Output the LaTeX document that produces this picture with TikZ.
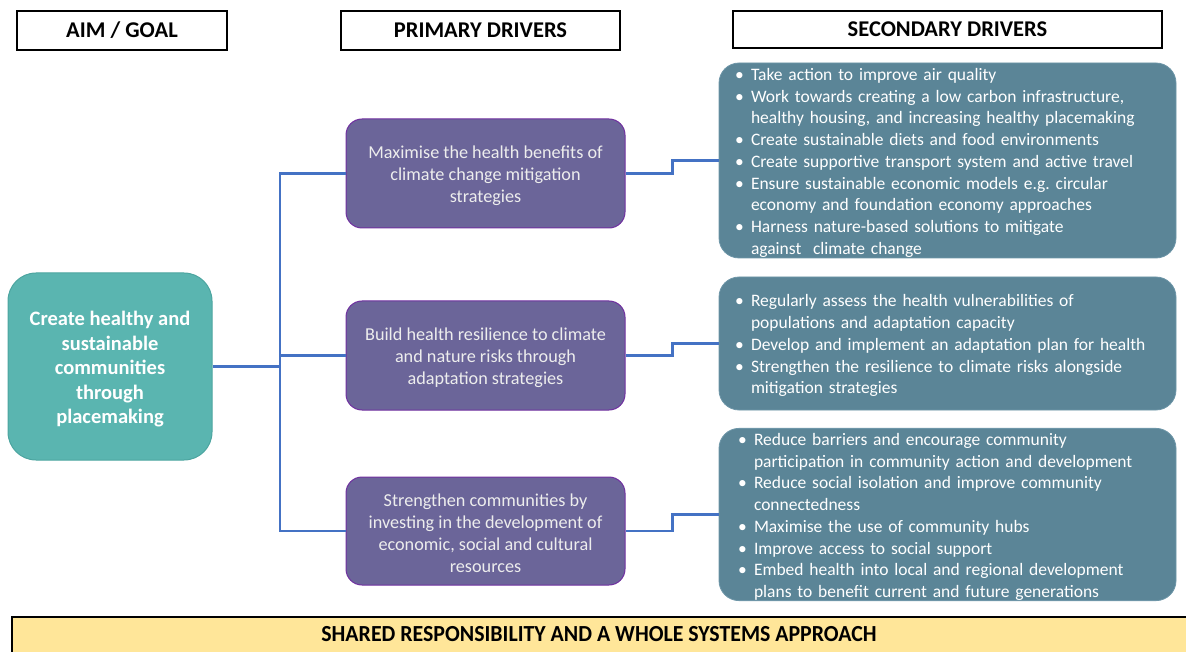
\documentclass[tikz,border=0pt]{standalone}
\usepackage{fontspec}
\setmainfont{Carlito}
\usepackage{graphicx}
\definecolor{aimfill}{RGB}{90,181,176}
\definecolor{aimdraw}{RGB}{76,165,160}
\definecolor{primfill}{RGB}{107,101,153}
\definecolor{primdraw}{RGB}{112,48,160}
\definecolor{secfill}{RGB}{91,133,151}
\definecolor{secdraw}{RGB}{110,150,168}
\definecolor{linkblue}{RGB}{68,114,196}
\definecolor{barfill}{RGB}{255,230,153}
\tikzset{
  header/.style={draw=black, line width=2pt, fill=white, font=\fontsize{22.5}{26}\selectfont\bfseries, inner sep=0pt},
  aimbox/.style={draw=aimdraw, line width=1pt, fill=aimfill, rounded corners=28pt, text=white, align=center,
    font=\fontsize{20.5}{24.5}\selectfont\bfseries, minimum width=204pt, minimum height=187pt, inner sep=0pt},
  primbox/.style={draw=primdraw, line width=1pt, fill=primfill, rounded corners=16pt, text=white!93!black, align=center,
    font=\fontsize{18.2}{22}\selectfont, minimum width=279pt, minimum height=109pt, inner sep=0pt},
  secbox/.style={draw=secdraw, line width=0.8pt, fill=secfill, rounded corners=20pt, text=white, align=left,
    font=\fontsize{17.5}{21.75}\selectfont, minimum width=457pt, text width=425pt, inner xsep=16pt, inner ysep=0pt},
  link/.style={draw=linkblue, line width=2.6pt},
  bar/.style={fill=barfill, minimum width=1174pt, minimum height=35pt, inner sep=0pt,
    font=\fontsize{23}{26}\selectfont\bfseries}
}
\newcommand{\bl}{\makebox[16pt][l]{\textbullet}}
\newcommand{\cl}{\hspace*{16pt}}
\begin{document}
\begin{tikzpicture}[x=1pt,y=-1pt]
\useasboundingbox (0,0) rectangle (1186,652);
% headers
\node[header, minimum width=210pt, minimum height=39pt] (hAim) at (122,30.5) {AIM / GOAL};
\node[header, minimum width=279pt, minimum height=39pt] (hPrim) at (480.5,30.5) {PRIMARY DRIVERS};
\node[header, minimum width=429pt, minimum height=37pt] (hSec) at (947.5,29.5) {SECONDARY DRIVERS};
% aim
\node[aimbox] (aim) at (110,366.5) {\rule{0pt}{20pt}Create healthy and\\sustainable\\communities\\through\\placemaking};
% primary drivers
\node[primbox] (p1) at (485.5,173.5) {\rule{0pt}{18pt}Maximise the health benefits of\\climate change mitigation\\strategies};
\node[primbox] (p2) at (485.5,355.5) {\rule{0pt}{18pt}Build health resilience to climate\\and nature risks through\\adaptation strategies};
\node[primbox, minimum height=108pt] (p3) at (485.5,531) {\rule{0pt}{18pt}Strengthen communities by\\investing in the development of\\economic, social and cultural\\resources};
% secondary drivers
\node[secbox, minimum height=195pt] (s1) at (947.5,160.5) {%
\rule{0pt}{17pt}\bl Take action to improve air quality\\
\bl Work towards creating a low carbon infrastructure,\\
\cl healthy housing, and increasing healthy placemaking\\
\bl Create sustainable diets and food environments\\
\bl Create supportive transport system and active travel\\
\bl Ensure sustainable economic models e.g.\ circular\\
\cl economy and foundation economy approaches\\
\bl Harness nature-based solutions to mitigate\\
\cl against\ \ climate change};
\node[secbox, minimum height=133pt] (s2) at (947.5,343.5) {%
\rule{0pt}{17pt}\bl Regularly assess the health vulnerabilities of\\
\cl populations and adaptation capacity\\
\bl Develop and implement an adaptation plan for health\\
\bl Strengthen the resilience to climate risks alongside\\
\cl mitigation strategies};
\node[secbox, minimum height=171pt] (s3) at (947.5,514.5) {%
\rule{0pt}{17pt}\hspace*{3pt}\bl Reduce barriers and encourage community\\
\hspace*{3pt}\cl participation in community action and development\\
\hspace*{3pt}\bl Reduce social isolation and improve community\\
\hspace*{3pt}\cl connectedness\\
\hspace*{3pt}\bl Maximise the use of community hubs\\
\hspace*{3pt}\bl Improve access to social support\\
\hspace*{3pt}\bl Embed health into local and regional development\\
\hspace*{3pt}\cl plans to benefit current and future generations};
% connectors
\coordinate (spine) at (280,366.5);
\draw[link] (aim.east) -- (spine);
\draw[link] (p1.west) -| (spine);
\draw[link] (p3.west) -| (spine);
\draw[link] (p2.west) -- (p2.west -| spine);
\draw[link] (p1.east) -- ++(47,0) |- (s1.west);
\draw[link] (p2.east) -- ++(47,0) |- (s2.west);
\draw[link] (p3.east) -- ++(47,0) |- (s3.west);
% bottom bar
\node[bar] (shared) at (599,634.5) {\scalebox{0.95}[1]{SHARED RESPONSIBILITY AND A WHOLE SYSTEMS APPROACH}};
\draw[line width=2.5pt, black] (shared.south west) -- (shared.north west) -- (shared.north east);
\end{tikzpicture}
\end{document}
